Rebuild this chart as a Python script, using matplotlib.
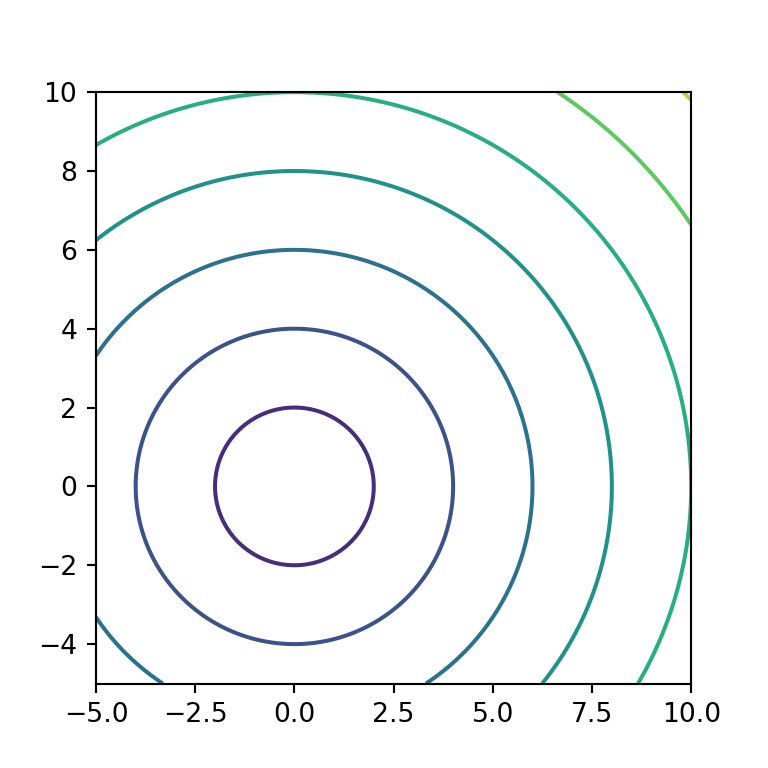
import numpy as np
import matplotlib
matplotlib.use("Agg")
import matplotlib.pyplot as plt

# grid extent
x_range = [-5, 10]
y_range = [-5, 10]
n_points = 400

x = np.linspace(x_range[0], x_range[1], n_points)
y = np.linspace(y_range[0], y_range[1], n_points)
X, Y = np.meshgrid(x, y)
# distance from the origin -> concentric circles
Z = np.sqrt(X ** 2 + Y ** 2)

fig, ax = plt.subplots(figsize=(4, 4), dpi=192)
ax.contour(X, Y, Z)
fig.savefig("out.png")
